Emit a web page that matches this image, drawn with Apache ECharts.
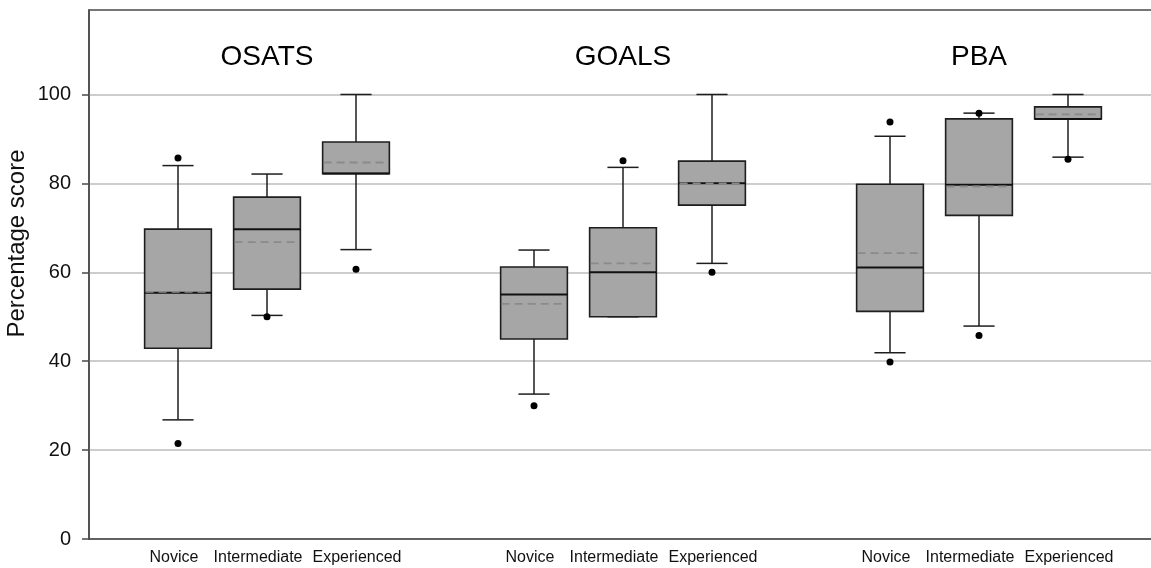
<!DOCTYPE html>
<html>
<head>
<meta charset="utf-8">
<script src="https://cdn.jsdelivr.net/npm/echarts@6/dist/echarts.min.js"></script>
<style>
html,body{margin:0;padding:0;background:#fff;}
#chart{width:1151px;height:568px;}
</style>
</head>
<body>
<div id="chart"></div>
<script>
// ---- data ----
const groups = ['OSATS', 'GOALS', 'PBA'];
const levels = ['Novice', 'Intermediate', 'Experienced'];
const yTicks = [0, 20, 40, 60, 80, 100];
// one entry per box: OSATS N/I/E, GOALS N/I/E, PBA N/I/E
const whiskerLow  = [26.8, 50.3, 65.1, 32.6, 50.0, 62.0, 41.9, 47.9, 85.9];
const q1          = [42.9, 56.2, 82.2, 45.0, 50.0, 75.1, 51.2, 72.8, 94.5];
const median      = [55.4, 69.7, 82.2, 55.0, 60.0, 80.0, 61.1, 79.7, 94.5];
const q3          = [69.7, 76.9, 89.3, 61.2, 70.0, 85.0, 79.8, 94.5, 97.2];
const whiskerHigh = [84.0, 82.1, 100.0, 65.0, 83.6, 100.0, 90.6, 95.8, 100.0];
const mean        = [55.6, 66.8, 84.7, 52.9, 62.0, 80.0, 64.3, 79.3, 95.5];
const outlierLow  = [21.5, 50.0, 60.7, 30.0, null, 60.0, 39.8, 45.8, 85.4];
const outlierHigh = [85.7, null, null, null, 85.1, null, 93.8, 95.8, null];
const groupTitleY = 108.4;

// ---- build series data ----
function xPos(k) { const g = Math.floor(k / 3), i = k % 3; return g * 4 + i + 1; }
const boxData = q1.map((_, k) => [xPos(k), whiskerLow[k], q1[k], median[k], q3[k], whiskerHigh[k], mean[k]]);
const outlierData = [];
outlierLow.forEach((v, k) => { if (v != null) outlierData.push([xPos(k), v]); });
outlierHigh.forEach((v, k) => { if (v != null) outlierData.push([xPos(k), v]); });
const titleData = groups.map((g, gi) => [gi * 4 + 2, groupTitleY, gi]);
const xLabelMap = {};
const xLabelValues = [];
const richKeys = ['n', 'i', 'e'];
for (let k = 0; k < 9; k++) {
  xLabelMap[xPos(k)] = '{' + richKeys[k % 3] + '|' + levels[k % 3] + '}';
  xLabelValues.push(xPos(k));
}

const FONT = '"Liberation Sans", Arial, sans-serif';
const chart = echarts.init(document.getElementById('chart'), null, { renderer: 'canvas' });

function renderBox(params, api) {
  const x = api.value(0);
  const band = api.size([1, 0])[0];
  const bw = band * 0.75, cw = band * 0.35;
  const P = v => api.coord([x, v]);
  const lo = P(api.value(1)), b1 = P(api.value(2)), md = P(api.value(3)),
        b3 = P(api.value(4)), hi = P(api.value(5)), mn = P(api.value(6));
  const cx = lo[0];
  const dark = '#1e1e1e';
  const ls = { stroke: dark, lineWidth: 1.5 };
  return {
    type: 'group',
    children: [
      { type: 'line', shape: { x1: cx, y1: b1[1], x2: cx, y2: lo[1] }, style: ls },
      { type: 'line', shape: { x1: cx - cw / 2, y1: lo[1], x2: cx + cw / 2, y2: lo[1] }, style: ls },
      { type: 'line', shape: { x1: cx, y1: b3[1], x2: cx, y2: hi[1] }, style: ls },
      { type: 'line', shape: { x1: cx - cw / 2, y1: hi[1], x2: cx + cw / 2, y2: hi[1] }, style: ls },
      { type: 'rect', shape: { x: cx - bw / 2, y: b3[1], width: bw, height: b1[1] - b3[1] },
        style: { fill: '#a6a6a6', stroke: dark, lineWidth: 1.6 } },
      { type: 'line', shape: { x1: cx - bw / 2, y1: md[1], x2: cx + bw / 2, y2: md[1] },
        style: { stroke: '#111', lineWidth: 2 } },
      { type: 'line', shape: { x1: cx - bw / 2 + 1, y1: mn[1], x2: cx + bw / 2 - 1, y2: mn[1] },
        style: { stroke: '#8a8a8a', lineWidth: 1.8, lineDash: [8, 5] } }
    ]
  };
}

function renderTitle(params, api) {
  const p = api.coord([api.value(0), api.value(1)]);
  return {
    type: 'text', x: p[0], y: p[1],
    style: { text: groups[api.value(2)], fill: '#000', fontSize: 28, fontFamily: FONT,
      align: 'center', verticalAlign: 'middle' }
  };
}

const labelBase = { fontFamily: FONT, fontSize: 16, color: '#111' };

chart.setOption({
  animation: false,
  backgroundColor: '#fff',
  grid: { left: 89, right: -6, top: 10, bottom: 29, containLabel: false, outerBoundsMode: 'none',
    show: true, borderColor: '#4a4a4a', borderWidth: 1.5, backgroundColor: 'transparent' },
  xAxis: {
    type: 'value', min: 0, max: 12, interval: 1,
    axisLine: { show: true, lineStyle: { color: '#4a4a4a', width: 1.5 } },
    axisTick: { show: false },
    splitLine: { show: false },
    axisLabel: {
      customValues: xLabelValues, hideOverlap: false, showMaxLabel: true,
      formatter: v => xLabelMap[v] || '',
      fontFamily: FONT, fontSize: 16, color: '#111', margin: 11,
      rich: {
        n: Object.assign({ padding: [0, 8, 0, 0] }, labelBase),
        i: Object.assign({ padding: [0, 18, 0, 0] }, labelBase),
        e: Object.assign({ padding: [0, 0, 0, 2] }, labelBase)
      }
    }
  },
  yAxis: {
    type: 'value', min: 0, max: 119,
    name: 'Percentage score', nameLocation: 'middle', nameGap: 60, nameMoveOverlap: false,
    nameTextStyle: { fontFamily: FONT, fontSize: 24, color: '#111', padding: [0, 0, 0, 62] },
    axisLine: { show: true, lineStyle: { color: '#4a4a4a', width: 1.5 } },
    axisTick: { show: true, length: 7, customValues: yTicks, lineStyle: { color: '#4a4a4a', width: 1.5 } },
    axisLabel: { customValues: yTicks, fontFamily: FONT, fontSize: 20, color: '#111', margin: 18 },
    splitLine: { show: true, lineStyle: { color: '#bdbdbd', width: 1.5 } }
  },
  series: [
    {
      type: 'custom', data: boxData, renderItem: renderBox,
      encode: { x: 0, y: [1, 2, 3, 4, 5, 6] }, z: 3
    },
    {
      type: 'scatter', data: outlierData, symbol: 'circle', symbolSize: 7,
      itemStyle: { color: '#000', opacity: 1 }, z: 4
    },
    {
      type: 'custom', data: titleData, renderItem: renderTitle,
      encode: { x: 0, y: 1 }, z: 5, silent: true
    }
  ]
});
</script>
</body>
</html>
